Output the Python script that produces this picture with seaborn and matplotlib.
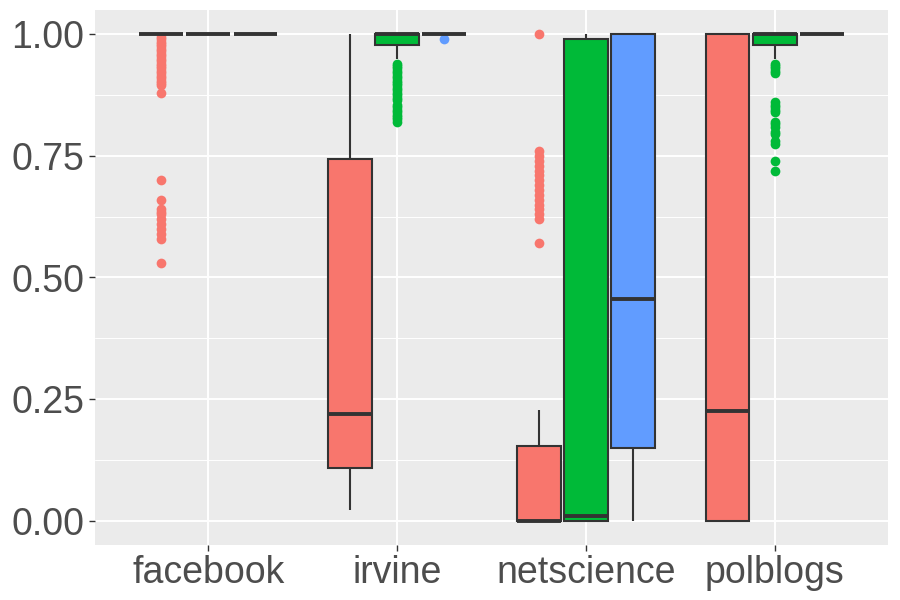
import pandas as pd
import matplotlib.pyplot as plt
import seaborn as sns
from matplotlib.ticker import MultipleLocator

# Categories and methods (hue)
GROUPS = ["facebook", "irvine", "netscience", "polblogs"]
METHODS = ["m1", "m2", "m3"]
COLORS = ["#F8766D", "#00BA38", "#619CFF"]

# Box summaries, one entry per (group, method)
Q1 = [1.00, 1.00, 1.00,
      0.109, 0.978, 1.00,
      0.00, 0.00, 0.150,
      0.00, 0.979, 1.00]
MEDIAN = [1.00, 1.00, 1.00,
          0.220, 1.00, 1.00,
          0.00, 0.009, 0.455,
          0.225, 1.00, 1.00]
Q3 = [1.00, 1.00, 1.00,
      0.743, 1.00, 1.00,
      0.153, 0.990, 1.00,
      1.00, 1.00, 1.00]
WHISLO = [1.00, 1.00, 1.00,
          0.021, 0.950, 1.00,
          0.00, 0.00, 0.00,
          0.00, 0.950, 1.00]
WHISHI = [1.00, 1.00, 1.00,
          1.00, 1.00, 1.00,
          0.228, 1.00, 1.00,
          1.00, 1.00, 1.00]

# Outlier points
FLIERS = [
    [0.995, 0.99, 0.985, 0.98, 0.975, 0.97, 0.965, 0.96, 0.955, 0.95, 0.945,
     0.94, 0.935, 0.93, 0.925, 0.92, 0.915, 0.91, 0.905, 0.90, 0.895, 0.88,
     0.70, 0.66, 0.64, 0.635, 0.63, 0.62, 0.61, 0.60, 0.59, 0.58, 0.53],
    [], [],
    [], [0.94, 0.935, 0.93, 0.925, 0.92, 0.915, 0.91, 0.905, 0.90, 0.895, 0.89,
         0.885, 0.88, 0.875, 0.87, 0.865, 0.855, 0.85, 0.845, 0.84, 0.835,
         0.83, 0.825, 0.82],
    [0.99],
    [1.00, 0.76, 0.75, 0.74, 0.73, 0.72, 0.71, 0.70, 0.69, 0.68, 0.67,
     0.66, 0.65, 0.64, 0.63, 0.62, 0.57],
    [], [],
    [], [0.94, 0.935, 0.93, 0.925, 0.92, 0.86, 0.855, 0.85, 0.845, 0.84,
         0.82, 0.815, 0.81, 0.80, 0.795, 0.78, 0.775, 0.74, 0.72],
    [],
]

REPEAT = 100  # copies of each summary value so the outliers don't move the quartiles


def build_frame():
    rows = []
    i = 0
    for g in GROUPS:
        for m in METHODS:
            vals = [WHISLO[i], Q1[i], MEDIAN[i], Q3[i], WHISHI[i]] * REPEAT + FLIERS[i]
            rows += [(g, m, v) for v in vals]
            i += 1
    return pd.DataFrame(rows, columns=["group", "method", "value"])


df = build_frame()

sns.set_theme(style="darkgrid", rc={
    "axes.facecolor": "#EBEBEB",
    "grid.color": "white",
    "axes.edgecolor": "none",
})
plt.rcParams["font.family"] = ["Liberation Sans", "DejaVu Sans"]

fig, ax = plt.subplots(figsize=(9, 6), dpi=100)
fig.subplots_adjust(left=0.1056, right=0.9867, top=0.9833, bottom=0.0917)

sns.boxplot(
    data=df, x="group", y="value", hue="method",
    order=GROUPS, hue_order=METHODS, palette=COLORS, saturation=1,
    width=0.75, gap=0.07, linecolor="#333333", linewidth=1.5,
    showcaps=False, whis=1.5,
    medianprops={"linewidth": 2.8, "color": "#333333"},
    flierprops={"marker": "o", "markersize": 7, "markeredgewidth": 0},
    legend=False, ax=ax,
)

# colour the outliers like their box
for cont, col in zip(ax.containers, COLORS):
    for fl in cont.fliers:
        fl.set_markerfacecolor(col)
        fl.set_markeredgecolor(col)

ax.set_xlim(-0.6, 3.6)
ax.set_ylim(-0.05, 1.05)
ax.yaxis.set_minor_locator(MultipleLocator(0.125))
ax.set_yticks([0, 0.25, 0.5, 0.75, 1.0])
ax.set_yticklabels(["0.00", "0.25", "0.50", "0.75", "1.00"])
ax.grid(which="major", color="white", linewidth=1.4)
ax.grid(which="minor", axis="y", color="white", linewidth=0.7)
ax.set_axisbelow(True)
ax.tick_params(axis="both", which="major", length=4, width=1, color="#333333",
               labelcolor="#4D4D4D", labelsize=27, pad=3.5,
               left=True, bottom=True)
ax.tick_params(axis="both", which="minor", length=0)
ax.set_xlabel("")
ax.set_ylabel("")
for s in ax.spines.values():
    s.set_visible(False)

fig.savefig("out.png", dpi=100)
